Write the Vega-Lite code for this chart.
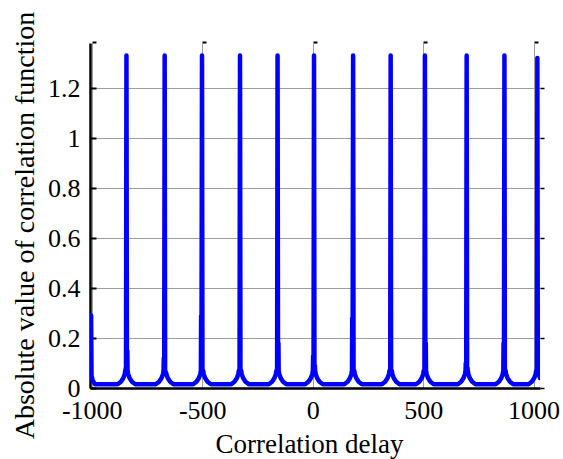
{
  "$schema": "https://vega.github.io/schema/vega-lite/v6.json",
  "autosize": {"type": "none"},
  "width": 450,
  "height": 345,
  "padding": {"left": 90, "top": 43, "right": 23, "bottom": 71},
  "background": "white",
  "config": {
    "view": {"stroke": null},
    "axis": {
      "labelFont": "Liberation Serif",
      "titleFont": "Liberation Serif",
      "labelFontSize": 26,
      "titleFontSize": 27,
      "titleFontWeight": "normal",
      "labelColor": "black",
      "titleColor": "black",
      "gridColor": "#9e9e9e",
      "gridWidth": 1,
      "gridOpacity": 1,
      "domainColor": "black",
      "tickColor": "black"
    }
  },
  "data": {
    "values": [
      {"delay": -1008, "value": 0.29}, {"delay": -1003, "value": 0.29}, {"delay": -1001, "value": 0.05}, {"delay": -996, "value": 0.03}, {"delay": -985, "value": 0.015},
      {"delay": -883, "value": 0.015}, {"delay": -868, "value": 0.025}, {"delay": -857, "value": 0.04}, {"delay": -851, "value": 0.055}, {"delay": -848, "value": 0.07}, {"delay": -846, "value": 0.08}, {"delay": -845, "value": 0.08}, {"delay": -843, "value": 1.33}, {"delay": -841, "value": 0.15}, {"delay": -839, "value": 0.15}, {"delay": -838, "value": 0.07}, {"delay": -835, "value": 0.055}, {"delay": -829, "value": 0.04}, {"delay": -818, "value": 0.025}, {"delay": -803, "value": 0.015},
      {"delay": -710, "value": 0.015}, {"delay": -695, "value": 0.025}, {"delay": -684, "value": 0.04}, {"delay": -678, "value": 0.055}, {"delay": -675, "value": 0.07}, {"delay": -674, "value": 0.12}, {"delay": -672, "value": 0.12}, {"delay": -670, "value": 1.33}, {"delay": -668, "value": 0.07}, {"delay": -666, "value": 0.065}, {"delay": -665, "value": 0.065}, {"delay": -662, "value": 0.055}, {"delay": -656, "value": 0.04}, {"delay": -645, "value": 0.025}, {"delay": -630, "value": 0.015},
      {"delay": -541, "value": 0.015}, {"delay": -526, "value": 0.025}, {"delay": -515, "value": 0.04}, {"delay": -509, "value": 0.055}, {"delay": -506, "value": 0.07}, {"delay": -505, "value": 0.29}, {"delay": -503, "value": 0.29}, {"delay": -501, "value": 1.33}, {"delay": -499, "value": 0.07}, {"delay": -497, "value": 0.07}, {"delay": -496, "value": 0.07}, {"delay": -493, "value": 0.055}, {"delay": -487, "value": 0.04}, {"delay": -476, "value": 0.025}, {"delay": -461, "value": 0.015},
      {"delay": -369, "value": 0.015}, {"delay": -354, "value": 0.025}, {"delay": -343, "value": 0.04}, {"delay": -337, "value": 0.055}, {"delay": -334, "value": 0.07}, {"delay": -333, "value": 0.07}, {"delay": -331, "value": 0.07}, {"delay": -329, "value": 1.33}, {"delay": -327, "value": 0.07}, {"delay": -325, "value": 0.07}, {"delay": -324, "value": 0.07}, {"delay": -321, "value": 0.055}, {"delay": -315, "value": 0.04}, {"delay": -304, "value": 0.025}, {"delay": -289, "value": 0.015},
      {"delay": -199, "value": 0.015}, {"delay": -184, "value": 0.025}, {"delay": -173, "value": 0.04}, {"delay": -167, "value": 0.055}, {"delay": -164, "value": 0.07}, {"delay": -163, "value": 0.07}, {"delay": -161, "value": 0.07}, {"delay": -159, "value": 1.33}, {"delay": -157, "value": 0.18}, {"delay": -155, "value": 0.18}, {"delay": -154, "value": 0.07}, {"delay": -151, "value": 0.055}, {"delay": -145, "value": 0.04}, {"delay": -134, "value": 0.025}, {"delay": -119, "value": 0.015},
      {"delay": -34, "value": 0.015}, {"delay": -19, "value": 0.025}, {"delay": -8, "value": 0.04}, {"delay": -2, "value": 0.055}, {"delay": 1, "value": 0.07}, {"delay": 2, "value": 0.13}, {"delay": 4, "value": 0.13}, {"delay": 6, "value": 1.33}, {"delay": 8, "value": 0.09}, {"delay": 10, "value": 0.09}, {"delay": 11, "value": 0.07}, {"delay": 14, "value": 0.055}, {"delay": 20, "value": 0.04}, {"delay": 31, "value": 0.025}, {"delay": 46, "value": 0.015},
      {"delay": 143, "value": 0.015}, {"delay": 158, "value": 0.025}, {"delay": 169, "value": 0.04}, {"delay": 175, "value": 0.055}, {"delay": 178, "value": 0.07}, {"delay": 179, "value": 0.28}, {"delay": 181, "value": 0.28}, {"delay": 183, "value": 1.33}, {"delay": 185, "value": 0.07}, {"delay": 187, "value": 0.07}, {"delay": 188, "value": 0.07}, {"delay": 191, "value": 0.055}, {"delay": 197, "value": 0.04}, {"delay": 208, "value": 0.025}, {"delay": 223, "value": 0.015},
      {"delay": 313, "value": 0.015}, {"delay": 328, "value": 0.025}, {"delay": 339, "value": 0.04}, {"delay": 345, "value": 0.055}, {"delay": 348, "value": 0.07}, {"delay": 349, "value": 0.07}, {"delay": 351, "value": 0.07}, {"delay": 353, "value": 1.33}, {"delay": 355, "value": 0.07}, {"delay": 357, "value": 0.07}, {"delay": 358, "value": 0.07}, {"delay": 361, "value": 0.055}, {"delay": 367, "value": 0.04}, {"delay": 378, "value": 0.025}, {"delay": 393, "value": 0.015},
      {"delay": 468, "value": 0.015}, {"delay": 483, "value": 0.025}, {"delay": 494, "value": 0.04}, {"delay": 500, "value": 0.055}, {"delay": 503, "value": 0.07}, {"delay": 504, "value": 0.07}, {"delay": 506, "value": 0.07}, {"delay": 508, "value": 1.33}, {"delay": 510, "value": 0.18}, {"delay": 512, "value": 0.18}, {"delay": 513, "value": 0.07}, {"delay": 516, "value": 0.055}, {"delay": 522, "value": 0.04}, {"delay": 533, "value": 0.025}, {"delay": 548, "value": 0.015},
      {"delay": 657, "value": 0.015}, {"delay": 672, "value": 0.025}, {"delay": 683, "value": 0.04}, {"delay": 689, "value": 0.055}, {"delay": 692, "value": 0.07}, {"delay": 693, "value": 0.1}, {"delay": 695, "value": 0.1}, {"delay": 697, "value": 1.33}, {"delay": 699, "value": 0.08}, {"delay": 701, "value": 0.08}, {"delay": 702, "value": 0.07}, {"delay": 705, "value": 0.055}, {"delay": 711, "value": 0.04}, {"delay": 722, "value": 0.025}, {"delay": 737, "value": 0.015},
      {"delay": 828, "value": 0.015}, {"delay": 843, "value": 0.025}, {"delay": 854, "value": 0.04}, {"delay": 860, "value": 0.055}, {"delay": 863, "value": 0.07}, {"delay": 864, "value": 0.18}, {"delay": 866, "value": 0.18}, {"delay": 868, "value": 1.33}, {"delay": 870, "value": 0.07}, {"delay": 872, "value": 0.07}, {"delay": 873, "value": 0.07}, {"delay": 876, "value": 0.055}, {"delay": 882, "value": 0.04}, {"delay": 893, "value": 0.025}, {"delay": 908, "value": 0.015},
      {"delay": 977, "value": 0.015}, {"delay": 992, "value": 0.025}, {"delay": 1003, "value": 0.04}, {"delay": 1009, "value": 0.055}, {"delay": 1012, "value": 0.07}, {"delay": 1015, "value": 0.07}, {"delay": 1017, "value": 1.32}, {"delay": 1019, "value": 0.1}, {"delay": 1022, "value": 0.06}, {"delay": 1029, "value": 0.04}
    ]
  },
  "resolve": {"axis": {"x": "independent", "y": "independent"}},
  "layer": [
    {
      "mark": {"type": "line", "color": "#0000ff", "strokeWidth": 4.5, "strokeJoin": "round", "strokeCap": "round", "clip": true},
      "encoding": {
        "x": {
          "field": "delay", "type": "quantitative",
          "scale": {"domain": [-1008, 1029], "nice": false, "zero": false},
          "axis": {
            "title": "Correlation delay",
            "values": [-1000, -500, 0, 500, 1000],
            "labelExpr": "'' + datum.value",
            "labelFlush": false,
            "labelBaseline": "alphabetic",
            "labelPadding": 30,
            "ticks": false,
            "domainWidth": 2.5,
            "grid": true,
            "titleX": 219,
            "titleY": 64,
            "titleBaseline": "alphabetic"
          }
        },
        "y": {
          "field": "value", "type": "quantitative",
          "scale": {"domain": [0, 1.38], "nice": false},
          "axis": {
            "title": "Absolute value of correlation function",
            "titleFontSize": 28,
            "values": [0, 0.2, 0.4, 0.6, 0.8, 1, 1.2],
            "labelExpr": "'' + datum.value",
            "tickSize": -6,
            "tickWidth": 2,
            "labelPadding": 16,
            "domainWidth": 2.5,
            "grid": true,
            "titleX": -57,
            "titleY": 182,
            "titleBaseline": "alphabetic",
            "titleAlign": "center",
            "titleAngle": -90
          }
        }
      }
    },
    {
      "mark": {"type": "line", "opacity": 0},
      "encoding": {
        "x": {
          "field": "delay", "type": "quantitative",
          "axis": {
            "orient": "top",
            "title": null,
            "values": [-1000, -500, 0, 500, 1000],
            "labels": false,
            "domain": false,
            "grid": false,
            "ticks": true,
            "tickSize": 2,
            "tickWidth": 4,
            "tickOffset": 2
          }
        },
        "y": {
          "field": "value", "type": "quantitative",
          "axis": {
            "orient": "right",
            "title": null,
            "values": [0, 0.2, 0.4, 0.6, 0.8, 1, 1.2],
            "labels": false,
            "domain": false,
            "grid": false,
            "tickSize": 4,
            "tickWidth": 1.5
          }
        }
      }
    }
  ]
}
